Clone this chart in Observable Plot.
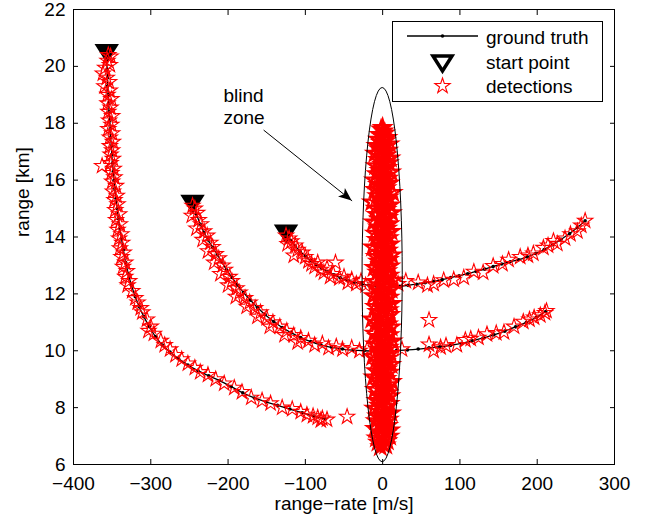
<!DOCTYPE html>
<html><head><meta charset="utf-8">
<script src="https://cdn.jsdelivr.net/npm/d3@7"></script>
<script src="https://cdn.jsdelivr.net/npm/@observablehq/plot@0.6"></script>
<style>
body{margin:0;background:#fff;}
#wrap{position:relative;width:657px;height:523px;font-family:"Liberation Sans",Arial,sans-serif;}
#legend{position:absolute;left:392px;top:21px;width:211px;height:81px;border:1px solid #000;background:#fff;box-sizing:border-box;}
#legend svg{position:absolute;left:0;top:0;}
</style></head><body><div id="wrap"></div>
<script>
// ---------- data ----------
const xTicks = [-400, -300, -200, -100, 0, 100, 200, 300];
const yTicks = [6, 8, 10, 12, 14, 16, 18, 20, 22];
const xLabel = "range\u2212rate [m/s]";
const yLabel = "range [km]";
const legendLabels = ["ground truth", "start point", "detections"];

const groundTruth1 = [[-357,20.45],[-357,20.2],[-356.5,19.9],[-356,19.6],[-356,19.3],[-355,19.0],[-354.5,18.7],[-354,18.4],[-353,18.1],[-352.5,17.8],[-352,17.5],[-351,17.2],[-350.5,16.9],[-349.5,16.6],[-348.5,16.3],[-347.5,16.0],[-346.5,15.7],[-345,15.35],[-343.5,15.0],[-342,14.65],[-340,14.3],[-338,13.95],[-335.5,13.55],[-332.5,13.1],[-329,12.7],[-325,12.3],[-320,11.9],[-315,11.55],[-309,11.2],[-302,10.85],[-294,10.5],[-285,10.2],[-275,9.95],[-264,9.72],[-252,9.5],[-239,9.3],[-225,9.12],[-211,8.95],[-196,8.74],[-181,8.52],[-166,8.34],[-151,8.2],[-136,8.08],[-120,7.95],[-104,7.82],[-89,7.7],[-74,7.6]];
const groundTruth2 = [[-246,15.15],[-241,14.8],[-236,14.45],[-231,14.15],[-226,13.9],[-220,13.64],[-214,13.38],[-208,13.12],[-202,12.85],[-195,12.58],[-188,12.31],[-180,12.05],[-171,11.78],[-162,11.52],[-152,11.27],[-141,11.03],[-130,10.82],[-118,10.63],[-106,10.46],[-93,10.32],[-80,10.21],[-66,10.12],[-52,10.06],[-38,10.02],[-24,10.0],[-10,9.99],[4,9.99],[18,10.01],[32,10.03],[46,10.06],[60,10.1],[74,10.14],[88,10.19],[102,10.26],[116,10.35],[130,10.45],[144,10.56],[158,10.69],[172,10.84],[186,11.0],[199,11.18],[211,11.38]];
const groundTruth3 = [[-125,14.1],[-119,13.88],[-113,13.68],[-107,13.5],[-100,13.33],[-93,13.17],[-86,13.03],[-79,12.9],[-71,12.78],[-63,12.67],[-55,12.57],[-46,12.48],[-37,12.41],[-28,12.35],[-18,12.3],[-8,12.27],[2,12.25],[12,12.25],[22,12.27],[33,12.3],[44,12.34],[55,12.39],[66,12.44],[77,12.5],[88,12.57],[99,12.64],[110,12.71],[121,12.79],[132,12.87],[143,12.96],[154,13.05],[165,13.13],[176,13.2],[187,13.3],[198,13.42],[209,13.56],[220,13.73],[231,13.92],[242,14.12],[252,14.33],[262,14.57]];

const startPoints = [[-357,20.45],[-246,15.15],[-125,14.1]];

const detections1 = [[-355,20.4],[-352,20.35],[-356,20.2],[-353,20.05],[-359,19.95],[-362,19.75],[-357,19.6],[-354,19.45],[-360,19.3],[-353,19.15],[-356,19.0],[-351,18.85],[-356,18.7],[-352,18.55],[-355,18.4],[-350,18.25],[-354,18.1],[-351,17.95],[-355,17.8],[-350,17.65],[-353,17.5],[-349,17.35],[-353,17.2],[-350,17.05],[-352,16.9],[-363,16.5],[-349,16.75],[-352,16.6],[-348,16.4],[-351,16.25],[-347,16.1],[-350,15.95],[-345,15.8],[-349,15.6],[-344,15.45],[-347,15.3],[-343,15.15],[-346,14.95],[-341,14.8],[-345,14.6],[-340,14.45],[-343,14.25],[-338,14.1],[-341,13.95],[-337,13.8],[-340,13.6],[-335,13.45],[-338,13.3],[-333,13.1],[-336,12.95],[-331,12.8],[-333,12.6],[-328,12.45],[-330,12.3],[-324,12.1],[-320,11.85],[-317,11.7],[-313,11.5],[-311,11.35],[-305,11.1],[-300,10.85],[-303,10.7],[-296,10.6],[-287,10.35],[-282,10.2],[-275,10.05],[-268,9.85],[-260,9.7],[-252,9.55],[-243,9.4],[-236,9.25],[-226,9.15],[-216,9.0],[-205,8.85],[-192,8.7],[-182,8.55],[-170,8.35],[-156,8.25],[-145,8.15],[-130,8.0],[-117,7.95],[-106,7.85],[-98,7.75],[-90,7.7],[-84,7.65],[-78,7.62],[-72,7.58],[-80,7.55]];
const detections2 = [[-246,15.1],[-243,15.0],[-240,14.85],[-247,14.75],[-238,14.6],[-235,14.45],[-241,14.3],[-231,14.2],[-227,14.05],[-233,13.9],[-223,13.8],[-220,13.65],[-226,13.5],[-216,13.4],[-212,13.25],[-218,13.1],[-207,13.0],[-204,12.85],[-210,12.7],[-198,12.6],[-195,12.45],[-200,12.3],[-189,12.2],[-185,12.05],[-190,11.9],[-178,11.85],[-172,11.7],[-176,11.55],[-165,11.5],[-158,11.35],[-162,11.2],[-150,11.15],[-142,11.0],[-146,10.85],[-133,10.85],[-124,10.7],[-127,10.55],[-115,10.55],[-106,10.45],[-110,10.3],[-96,10.35],[-88,10.2],[-78,10.25],[-70,10.1],[-60,10.15],[-52,10.05],[-40,10.1],[-30,10.0],[-20,10.05],[25,10.05],[60,10.22],[66,10.0],[75,10.12],[82,10.18],[96,10.2],[107,10.38],[114,10.42],[124,10.46],[135,10.58],[147,10.62],[157,10.65],[170,10.85],[182,11.02],[190,11.1],[196,11.17],[204,11.25],[210,11.33],[212,11.4]];
const detections3 = [[-125,14.05],[-121,13.95],[-118,13.85],[-123,13.75],[-113,13.7],[-110,13.55],[-115,13.35],[-104,13.45],[-100,13.3],[-96,13.15],[-92,13.05],[-88,12.95],[-84,13.1],[-80,12.85],[-76,12.75],[-72,12.9],[-68,12.6],[-61,13.1],[-64,12.7],[-56,12.55],[-50,12.6],[-45,12.4],[-40,12.5],[-34,12.35],[-28,12.45],[-22,12.3],[20,12.35],[30,12.45],[46,12.4],[58,12.3],[66,12.35],[79,12.48],[92,12.5],[105,12.57],[118,12.78],[130,12.75],[143,12.98],[155,13.05],[163,13.2],[178,13.3],[188,13.35],[195,13.42],[208,13.62],[214,13.7],[221,13.86],[226,13.76],[236,13.95],[243,14.1],[252,14.2],[257,14.4],[262,14.57]];
const falseAlarms = [[60,11.08],[-46,7.68]];
const clutter = [[-3,6.62],[4,6.68],[0,6.72],[-6,6.78],[6,6.83],[2,6.88],[-8,6.93],[9,6.99],[-2,7.04],[5,7.09],[-5,7.15],[10,7.21],[-10,7.26],[1,7.31],[7,7.37],[-4,7.42],[3,7.48],[-9,7.53],[8,7.59],[-1,7.64],[-7,7.7],[5,7.75],[11,7.81],[-3,7.86],[2,7.92],[-11,7.97],[6,8.03],[-5,8.08],[9,8.14],[0,8.19],[-8,8.25],[4,8.3],[-2,8.36],[10,8.41],[-6,8.47],[7,8.52],[1,8.58],[-10,8.63],[3,8.69],[-4,8.74],[8,8.8],[-1,8.85],[12,8.91],[-7,8.96],[5,9.02],[-12,9.07],[2,9.13],[-3,9.18],[9,9.24],[-9,9.29],[6,9.35],[0,9.4],[-5,9.46],[11,9.51],[-2,9.57],[4,9.62],[-8,9.68],[7,9.73],[-13,9.79],[1,9.84],[10,9.9],[-4,9.95],[3,10.01],[-6,10.06],[8,10.12],[-1,10.17],[-10,10.23],[6,10.28],[13,10.34],[-3,10.39],[2,10.45],[-7,10.5],[9,10.56],[-11,10.61],[4,10.67],[0,10.72],[-5,10.78],[11,10.83],[-2,10.89],[7,10.94],[-9,11.0],[3,11.05],[-14,11.11],[5,11.16],[-4,11.22],[10,11.27],[1,11.33],[-7,11.38],[8,11.44],[-1,11.49],[-10,11.55],[6,11.6],[12,11.66],[-3,11.71],[2,11.77],[-6,11.82],[9,11.88],[-12,11.93],[4,11.99],[0,12.04],[-5,12.1],[11,12.15],[-8,12.21],[7,12.26],[-2,12.32],[3,12.37],[-10,12.43],[14,12.48],[5,12.54],[-4,12.59],[9,12.65],[-1,12.7],[-7,12.76],[6,12.81],[1,12.87],[-11,12.92],[10,12.98],[-3,13.03],[4,13.09],[-6,13.14],[8,13.2],[0,13.25],[-9,13.31],[12,13.36],[2,13.42],[-5,13.47],[7,13.53],[-2,13.58],[-13,13.64],[5,13.69],[10,13.75],[-4,13.8],[1,13.86],[-8,13.91],[8,13.97],[-1,14.02],[4,14.08],[-10,14.13],[11,14.19],[-3,14.24],[6,14.3],[-6,14.35],[2,14.41],[9,14.46],[-12,14.52],[0,14.57],[-5,14.63],[7,14.68],[3,14.74],[-8,14.79],[12,14.85],[-2,14.9],[5,14.96],[-9,15.01],[1,15.07],[10,15.12],[-4,15.18],[-14,15.23],[6,15.29],[-1,15.34],[8,15.4],[-7,15.45],[3,15.51],[13,15.56],[-3,15.62],[-10,15.67],[5,15.73],[0,15.78],[-6,15.84],[9,15.89],[2,15.95],[-11,16.0],[7,16.06],[-2,16.11],[4,16.17],[-8,16.22],[11,16.28],[-4,16.33],[1,16.39],[6,16.44],[-9,16.5],[-1,16.55],[8,16.61],[3,16.66],[-6,16.72],[10,16.77],[-3,16.83],[5,16.88],[-10,16.94],[0,16.99],[7,17.05],[-5,17.1],[2,17.16],[-8,17.21],[9,17.27],[-2,17.32],[4,17.38],[-6,17.43],[6,17.49],[-1,17.54],[-4,17.6],[3,17.65],[1,17.72],[-2,17.79],[0,17.85]];

// blind zone annotation
const blindCenter = [0, 12.66];
const blindRadii = [26, 6.58];
const blindText = [{x: -206, y: 18.97, t: "blind"}, {x: -206, y: 18.18, t: "zone"}];
const blindArrow = [{x1: -154, y1: 17.76, x2: -39.5, y2: 15.27}];

// ---------- build ----------
const pts = (arr, extra = {}) => arr.map(([x, y]) => ({x, y, ...extra}));
const truth = [...pts(groundTruth1, {k: 1}), ...pts(groundTruth2, {k: 2}), ...pts(groundTruth3, {k: 3})];
const dets = [...pts(detections1), ...pts(detections2), ...pts(detections3), ...pts(falseAlarms)];
const starts = pts(startPoints);
const clut = pts(clutter);

const triDown = {draw(ctx) { ctx.moveTo(-9.5, -8.1); ctx.lineTo(9.5, -8.1); ctx.lineTo(0, 6.9); ctx.closePath(); }};
const NS = "http://www.w3.org/2000/svg";
const FONT = "Liberation Sans, Arial, sans-serif";

function ellipseMark(index, scales) {
  const {x, y} = scales;
  const e = document.createElementNS(NS, "ellipse");
  e.setAttribute("cx", x(blindCenter[0]));
  e.setAttribute("cy", y(blindCenter[1]));
  e.setAttribute("rx", Math.abs(x(blindCenter[0] + blindRadii[0]) - x(blindCenter[0])));
  e.setAttribute("ry", Math.abs(y(blindCenter[1] + blindRadii[1]) - y(blindCenter[1])));
  e.setAttribute("fill", "none");
  e.setAttribute("stroke", "black");
  e.setAttribute("stroke-width", 1);
  return e;
}
function arrowHead(index, scales) {
  const {x, y} = scales;
  const a = blindArrow[0];
  const X1 = x(a.x1), Y1 = y(a.y1), X2 = x(a.x2), Y2 = y(a.y2);
  const L = Math.hypot(X2 - X1, Y2 - Y1), ux = (X2 - X1) / L, uy = (Y2 - Y1) / L;
  const nx = -uy, ny = ux, hl = 13, hw = 5.5;
  const p = document.createElementNS(NS, "path");
  p.setAttribute("d", `M${X2},${Y2}L${X2 - hl*ux + hw*nx},${Y2 - hl*uy + hw*ny}L${X2 - 0.75*hl*ux},${Y2 - 0.75*hl*uy}L${X2 - hl*ux - hw*nx},${Y2 - hl*uy - hw*ny}Z`);
  p.setAttribute("fill", "black");
  return p;
}

const chart = Plot.plot({
  width: 657, height: 523,
  marginLeft: 73, marginRight: 43, marginTop: 9, marginBottom: 59,
  style: {fontFamily: FONT, fontSize: "19px", background: "white", color: "black"},
  x: {domain: [-400, 300]},
  y: {domain: [6, 22]},
  marks: [
    Plot.line(truth, {x: "x", y: "y", z: "k", stroke: "black", strokeWidth: 1.3, curve: "catmull-rom"}),
    Plot.dot(truth, {x: "x", y: "y", r: 1.8, fill: "black"}),
    Plot.dot(starts, {x: "x", y: "y", symbol: triDown, stroke: "black", strokeWidth: 3, fill: "black"}),
    Plot.dot(dets, {x: "x", y: "y", symbol: "star", r: 4.8, stroke: "#ff0000", fill: "none", strokeWidth: 1.1}),
    Plot.dot(clut, {x: "x", y: "y", symbol: "star", r: 4.8, stroke: "#ff0000", fill: "none", strokeWidth: 2.3}),
    ellipseMark,
    Plot.link(blindArrow, {x1: "x1", y1: "y1", x2: "x2", y2: "y2", stroke: "black", strokeWidth: 1}),
    arrowHead,
    Plot.text(blindText, {x: "x", y: "y", text: "t", textAnchor: "start", fontSize: 19, fill: "black"}),
    Plot.frame({stroke: "black", strokeWidth: 1}),
    Plot.axisX(xTicks, {anchor: "bottom", tickSize: -5, tickFormat: () => "", label: null}),
    Plot.axisX(xTicks, {anchor: "top", tickSize: -5, tickFormat: () => "", label: null}),
    Plot.axisY(yTicks, {anchor: "left", tickSize: -5, tickFormat: () => "", label: null}),
    Plot.axisY(yTicks, {anchor: "right", tickSize: -5, tickFormat: () => "", label: null}),
    Plot.axisX(xTicks, {anchor: "bottom", tickSize: 0, tickPadding: 12, fontSize: 19, tickFormat: d => d < 0 ? "\u2212" + Math.abs(d) : String(d), label: null}),
    Plot.axisY(yTicks, {anchor: "left", tickSize: 0, tickPadding: 8, fontSize: 19, tickFormat: d => String(d), label: null}),
    Plot.text([xLabel], {frameAnchor: "bottom", dy: 45, fontSize: 19, fill: "black"}),
    Plot.text([yLabel], {frameAnchor: "left", dx: -51, rotate: -90, fontSize: 19, fill: "black"})
  ]
});
const wrap = document.getElementById("wrap");
wrap.appendChild(chart);

// legend (overlay)
const lg = document.createElement("div");
lg.id = "legend";
const svg = d3.create("svg").attr("width", 209).attr("height", 79).style("font-family", FONT).style("font-size", "19px");
svg.append("line").attr("x1", 14).attr("x2", 85).attr("y1", 14).attr("y2", 14).attr("stroke", "black").attr("stroke-width", 1.3);
svg.append("circle").attr("cx", 49.5).attr("cy", 14).attr("r", 1.8).attr("fill", "black");
svg.append("path").attr("transform", "translate(49.5,42)").attr("d", "M-9.5,-8.1L9.5,-8.1L0,6.9Z").attr("fill", "none").attr("stroke", "black").attr("stroke-width", 3.5);
svg.append("path").attr("transform", "translate(49.5,64)").attr("d", d3.symbol(d3.symbolStar, Math.PI * 4.8 * 4.8)()).attr("fill", "none").attr("stroke", "#ff0000").attr("stroke-width", 1.1);
legendLabels.forEach((t, i) => svg.append("text").attr("x", 93).attr("y", [22, 47.3, 71.3][i]).text(t));
lg.appendChild(svg.node());
wrap.appendChild(lg);
</script></body></html>
